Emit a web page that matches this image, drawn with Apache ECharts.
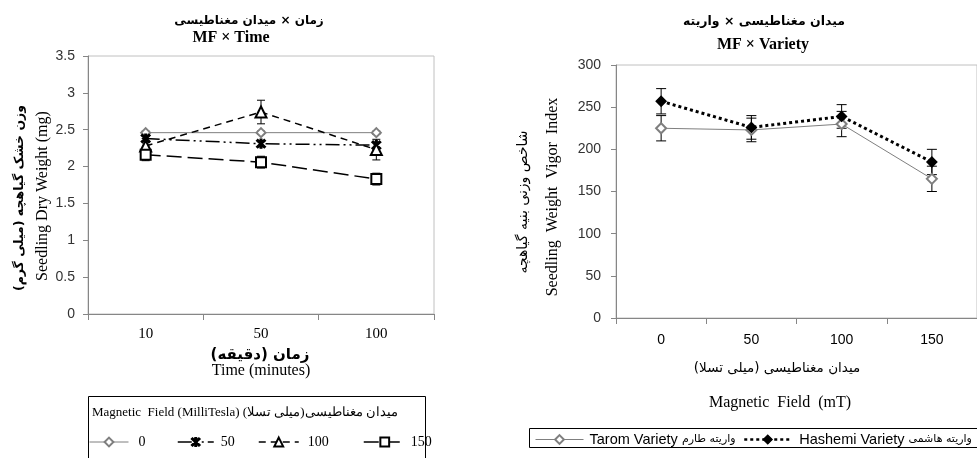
<!DOCTYPE html>
<html><head><meta charset="utf-8">
<script src="https://cdn.jsdelivr.net/npm/echarts@6/dist/echarts.min.js"></script>
<style>html,body{margin:0;padding:0;background:#fff}#c{width:977px;height:458px}</style>
</head><body><div id="c"></div>
<script>
// ---- Data ----
const timeCats = ['10', '50', '100'];
const mfNames = ['0', '50', '100', '150'];
const dw0 = [2.46, 2.46, 2.46];
const dw50 = [2.38, 2.31, 2.29];
const dw100 = [2.28, 2.74, 2.23];
const dw150 = [2.16, 2.06, 1.83];
const dwErr0 = [0.02, 0.02, 0.02];
const dwErr50 = [0.04, 0.04, 0.04];
const dwErr100 = [0.10, 0.16, 0.14];
const dwErr150 = [0.08, 0.08, 0.08];
const leftYTicks = [0, 3.5, 0.5]; // min, max, interval

const mfCats = ['0', '50', '100', '150'];
const varietyNames = ['Tarom Variety', 'Hashemi Variety'];
const varietyNamesFa = ['واریته طارم', 'واریته هاشمی'];
const tarom = [225, 223, 230, 165];
const hashemi = [257, 226, 239, 185];
const taromErr = [15, 14, 15, 15];
const hashemiErr = [15, 14, 14, 15];
const rightYTicks = [0, 300, 50];

// ---- Helpers ----
const RLM = '\u200F';
const fa = s => RLM + s + RLM;
const serif = "'Liberation Serif', 'Times New Roman', serif";
const sans = "'Liberation Sans', Arial, sans-serif";
const faFont = "'DejaVu Sans', sans-serif";
const asterisk = 'path://M4.1,0H5.9V10H4.1Z M0.3,1.6L1.6,0.3L9.7,8.4L8.4,9.7Z M8.4,0.3L9.7,1.6L1.6,9.7L0.3,8.4Z';

function errRender(capHalf) {
  return function (params, api) {
    const x = api.value(0), v = api.value(1), e = api.value(2);
    const hi = api.coord([x, v + e]), lo = api.coord([x, v - e]);
    const style = { stroke: '#000', lineWidth: 1 };
    return { type: 'group', children: [
      { type: 'line', shape: { x1: hi[0], y1: hi[1], x2: lo[0], y2: lo[1] }, style },
      { type: 'line', shape: { x1: hi[0] - capHalf, y1: hi[1], x2: hi[0] + capHalf, y2: hi[1] }, style },
      { type: 'line', shape: { x1: lo[0] - capHalf, y1: lo[1], x2: lo[0] + capHalf, y2: lo[1] }, style }
    ]};
  };
}
function errSeries(vals, errs, xi, cap) {
  return { type: 'custom', xAxisIndex: xi, yAxisIndex: xi, z: 1, silent: true,
    renderItem: errRender(cap), data: vals.map((v, i) => [i, v, errs[i]]) };
}

const leftSeriesDefs = [
  { name: mfNames[0], data: dw0, err: dwErr0, color: '#7f7f7f', symbol: 'emptyDiamond', size: 9, width: 1, type: 'solid' },
  { name: mfNames[1], data: dw50, err: dwErr50, color: '#000', symbol: asterisk, size: 9, width: 1.5, type: [14, 4, 2, 4, 2, 4] },
  { name: mfNames[2], data: dw100, err: dwErr100, color: '#000', symbol: 'emptyTriangle', size: 11, width: 1.5, type: [7, 5] },
  { name: mfNames[3], data: dw150, err: dwErr150, color: '#000', symbol: 'emptyRect', size: 10, width: 1.5, type: [15, 6] }
];
const rightSeriesDefs = [
  { name: varietyNames[0], data: tarom, err: taromErr, color: '#7f7f7f', symbol: 'emptyDiamond', size: 10, width: 1, type: 'solid' },
  { name: varietyNames[1], data: hashemi, err: hashemiErr, color: '#000', symbol: 'diamond', size: 10, width: 3, type: [3, 3] }
];

const series = [];
leftSeriesDefs.forEach(d => series.push(errSeries(d.data, d.err, 0, 4)));
rightSeriesDefs.forEach(d => series.push(errSeries(d.data, d.err, 1, 5)));
leftSeriesDefs.concat(rightSeriesDefs).forEach((d, k) => {
  const xi = k < leftSeriesDefs.length ? 0 : 1;
  series.push({ type: 'line', name: d.name, xAxisIndex: xi, yAxisIndex: xi, z: 3,
    data: d.data, symbol: d.symbol, symbolSize: d.size, showSymbol: true,
    color: d.color,
    lineStyle: { color: d.color, width: d.width, type: d.type },
    itemStyle: { color: d.color, borderColor: d.color, borderWidth: 1.3 } });
});

function mkLegend(name, left, top, itemWidth, font, fontSize, pad, lw, extra) {
  return Object.assign({ data: [name], left, top, padding: 0, itemWidth, itemHeight: 11, itemGap: 0,
    selectedMode: false,
    lineStyle: { width: lw },
    itemStyle: { borderWidth: 1.3 },
    textStyle: { fontFamily: font, fontSize, color: '#000', padding: [0, 0, 0, pad] } }, extra || {});
}
const faLegendRich = {
  en: { fontFamily: sans, fontSize: 14.5, color: '#000' },
  fa: { fontFamily: faFont, fontSize: 11, color: '#000' }
};
const faLegendFmt = n => '{en|' + n + '} {fa|' + fa(varietyNamesFa[varietyNames.indexOf(n)]) + '}';

const axisGray = '#868686';
function catAxis(gi, data, font, size, margin) {
  return { type: 'category', gridIndex: gi, data, boundaryGap: true,
    axisLine: { lineStyle: { color: axisGray, width: 1 } },
    axisTick: { show: true, length: 6, alignWithLabel: false, lineStyle: { color: axisGray } },
    axisLabel: { fontFamily: font, fontSize: size, color: '#000', margin },
    splitLine: { show: false } };
}
function valAxis(gi, t, margin) {
  return { type: 'value', gridIndex: gi, min: t[0], max: t[1], interval: t[2],
    axisLine: { show: true, lineStyle: { color: axisGray, width: 1 } },
    axisTick: { show: true, length: 5, lineStyle: { color: axisGray } },
    axisLabel: { fontFamily: sans, fontSize: 14, color: '#333', margin },
    splitLine: { show: false } };
}

function txt(text, x, y, font, opts) {
  return Object.assign({ type: 'text', x, y, silent: true,
    style: { text, font, fill: '#000', align: 'center', verticalAlign: 'middle' } }, opts || {});
}

const graphic = [
  // left chart texts
  txt(fa('زمان × میدان مغناطیسی'), 249, 21, 'bold 12px ' + faFont),
  txt('MF × Time', 231, 38, 'bold 16px ' + serif),
  txt(fa('وزن خشک گیاهچه (میلی گرم)'), 20, 198, 'bold 12.5px ' + faFont, { rotation: Math.PI / 2 }),
  txt('Seedling Dry Weight (mg)', 43, 196, '16px ' + serif, { rotation: Math.PI / 2 }),
  txt(fa('زمان (دقیقه)'), 260, 355, 'bold 15px ' + faFont),
  txt('Time (minutes)', 261, 371, '16px ' + serif),
  { type: 'rect', silent: true, shape: { x: 88.5, y: 396.5, width: 337, height: 80 },
    style: { fill: 'none', stroke: '#000', lineWidth: 1 } },
  { type: 'text', x: 92, y: 413, silent: true,
    style: { text: 'Magnetic  Field (MilliTesla) ' + 'میدان مغناطیسی(میلی تسلا)' + RLM,
      font: '13px ' + serif, fill: '#000', align: 'left', verticalAlign: 'middle' } },
  // right chart texts
  txt(fa('میدان مغناطیسی × واریته'), 764, 22, 'bold 12.5px ' + faFont),
  txt('MF × Variety', 763, 45, 'bold 16px ' + serif),
  txt(fa('شاخص وزنی بنیه گیاهچه'), 523, 202, '14px ' + faFont, { rotation: Math.PI / 2 }),
  txt('Seedling  Weight  Vigor  Index', 553, 197, '16px ' + serif, { rotation: Math.PI / 2 }),
  txt(fa('میدان مغناطیسی (میلی تسلا)'), 777, 368, '13.5px ' + faFont),
  txt('Magnetic  Field  (mT)', 780, 403, '16px ' + serif),
  { type: 'rect', silent: true, shape: { x: 529.5, y: 428.5, width: 460, height: 19 },
    style: { fill: 'none', stroke: '#000', lineWidth: 1 } }
];

const chart = echarts.init(document.getElementById('c'), null, { renderer: 'canvas' });
chart.setOption({
  animation: false,
  backgroundColor: '#fff',
  grid: [
    { left: 88, top: 56, width: 346, height: 258, show: true, borderColor: '#c0c0c0', borderWidth: 1 },
    { left: 616, top: 65, width: 366, height: 253, show: true, borderColor: '#c0c0c0', borderWidth: 1 }
  ],
  xAxis: [catAxis(0, timeCats, serif, 15, 13), catAxis(1, mfCats, sans, 14, 15)],
  yAxis: [valAxis(0, leftYTicks, 13), valAxis(1, rightYTicks, 15)],
  legend: [
    mkLegend(mfNames[0], 89, 435, 39, serif, 14, 5, 1),
    mkLegend(mfNames[1], 177, 435, 36, serif, 14, 2, 1.5),
    mkLegend(mfNames[2], 258, 435, 40, serif, 14, 4, 1.5),
    mkLegend(mfNames[3], 363, 435, 42, serif, 14, 0, 1.5),
    mkLegend(varietyNames[0], 535, 432, 48, sans, 14.5, 1, 1, { formatter: faLegendFmt }),
    mkLegend(varietyNames[1], 743, 432, 47, sans, 14.5, 3, 2.5, { formatter: faLegendFmt })
  ],
  graphic,
  series
});
// apply rich text styles to the variety legends
chart.setOption({ legend: [{}, {}, {}, {}, { textStyle: { rich: faLegendRich } }, { textStyle: { rich: faLegendRich } }] });
</script>
</body></html>
